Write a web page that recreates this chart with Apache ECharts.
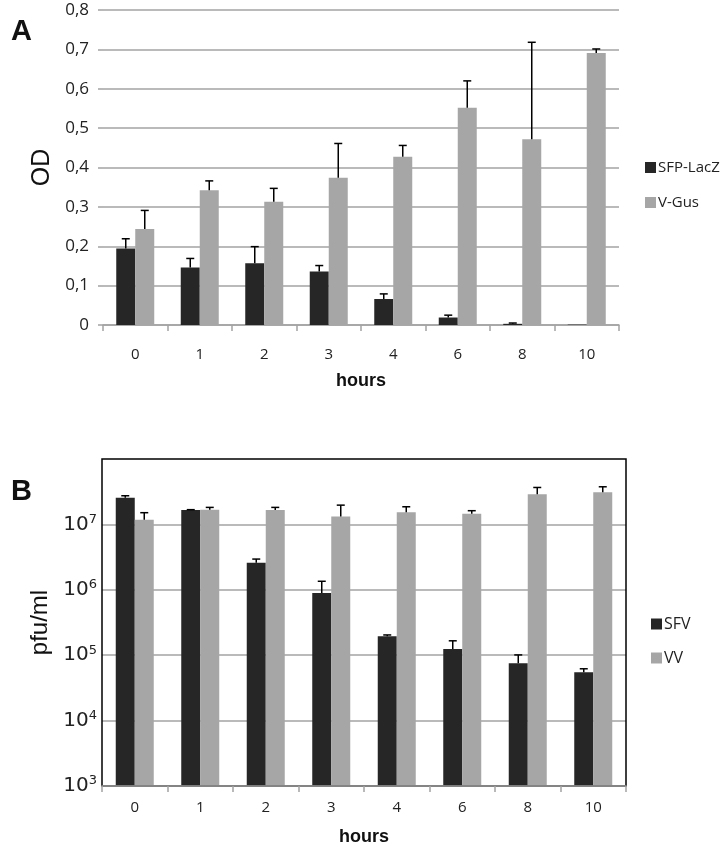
<!DOCTYPE html>
<html>
<head>
<meta charset="utf-8">
<script src="https://cdn.jsdelivr.net/npm/echarts@6/dist/echarts.min.js"></script>
<style>html,body{margin:0;padding:0;background:#fff}#c{width:723px;height:849px}</style>
</head>
<body>
<div id="c"></div>
<script>
// ---- data ----
const categories = ['0', '1', '2', '3', '4', '6', '8', '10'];
// Panel A (OD)
const sfpLacZ    = [0.194, 0.146, 0.157, 0.136, 0.066, 0.019, 0.003, 0.001];
const sfpLacZErr = [0.025, 0.023, 0.042, 0.015, 0.013, 0.006, 0.002, 0];
const vGus       = [0.244, 0.342, 0.313, 0.374, 0.427, 0.552, 0.472, 0.691];
const vGusErr    = [0.047, 0.024, 0.034, 0.087, 0.029, 0.068, 0.246, 0.010];
const odTicks    = [0, 0.1, 0.2, 0.3, 0.4, 0.5, 0.6, 0.7, 0.8];
// Panel B (pfu/ml)
const sfv    = [2.56e7, 1.66e7, 2.6e6, 8.9e5, 1.95e5, 1.24e5, 7.55e4, 5.5e4];
const sfvErr = [1.8e6, 2e5, 3.5e5, 4.6e5, 9e3, 4.2e4, 2.55e4, 7e3];
const vv     = [1.18e7, 1.68e7, 1.66e7, 1.32e7, 1.54e7, 1.46e7, 2.9e7, 3.11e7];
const vvErr  = [3.3e6, 1.4e6, 1.6e6, 6.5e6, 3.2e6, 1.6e6, 7.7e6, 6.5e6];

const DARK = '#262626', LIGHT = '#a6a6a6', GRID = '#a3a3a3';
const BAR_W = 19;

function errData(vals, errs) {
  return vals.map((v, i) => [i, v, v + errs[i], errs[i]]);
}
function errRender(offset) {
  return function (params, api) {
    const err = api.value(3);
    if (!err) return null;
    const base = api.coord([api.value(0), api.value(1)]);
    const top = api.coord([api.value(0), api.value(2)]);
    const x = base[0] + offset;
    const style = { stroke: '#000', lineWidth: 1.5 };
    return {
      type: 'group',
      children: [
        { type: 'line', shape: { x1: x, y1: base[1], x2: x, y2: top[1] }, style },
        { type: 'line', shape: { x1: x - 4, y1: top[1], x2: x + 4, y2: top[1] }, style }
      ]
    };
  };
}

const chart = echarts.init(document.getElementById('c'), null, { renderer: 'canvas' });
const labelFont = 'Open Sans';
chart.setOption({
  animation: false,
  backgroundColor: '#fff',
  title: [
    { text: 'A', left: 6, top: 12, textStyle: { fontSize: 29, fontWeight: 'bold', fontFamily: 'Liberation Sans', color: '#111' } },
    { text: 'B', left: 6, top: 472, textStyle: { fontSize: 29, fontWeight: 'bold', fontFamily: 'Liberation Sans', color: '#111' } }
  ],
  legend: [
    {
      data: ['SFP-LacZ', 'V-Gus'], orient: 'vertical', left: 640, top: 155,
      itemWidth: 11, itemHeight: 11, itemGap: 20, icon: 'rect',
      textStyle: { fontSize: 15, fontFamily: labelFont, color: '#222', padding: [0, 0, 0, -3] }
    },
    {
      data: ['SFV', 'VV'], orient: 'vertical', left: 646, top: 611,
      itemWidth: 11, itemHeight: 11, itemGap: 18, icon: 'rect',
      textStyle: { fontSize: 16, fontFamily: labelFont, color: '#222', padding: [0, 0, 0, -3] }
    }
  ],
  grid: [
    { left: 103, right: 104, top: 10, bottom: 524 },
    { left: 102, right: 97, top: 459, bottom: 63, show: true, borderColor: '#000', borderWidth: 1.5, backgroundColor: 'transparent', z: 10 }
  ],
  xAxis: [
    {
      gridIndex: 0, type: 'category', data: categories,
      axisLine: { lineStyle: { color: GRID, width: 1.5 } },
      axisTick: { show: true, length: 6, lineStyle: { color: GRID, width: 1.5 } },
      axisLabel: { fontSize: 15, fontFamily: labelFont, color: '#222', margin: 22 },
      name: 'hours', nameLocation: 'middle', nameGap: 47,
      nameTextStyle: { fontSize: 18, fontWeight: 'bold', fontFamily: 'Liberation Sans', color: '#111' }
    },
    {
      gridIndex: 1, type: 'category', data: categories, z: 12,
      axisLine: { lineStyle: { color: GRID, width: 1.5 } },
      axisTick: { show: true, length: 6, lineStyle: { color: GRID, width: 1.5 } },
      axisLabel: { fontSize: 15, fontFamily: labelFont, color: '#222', margin: 14 },
      name: 'hours', nameLocation: 'middle', nameGap: 42,
      nameTextStyle: { fontSize: 18, fontWeight: 'bold', fontFamily: 'Liberation Sans', color: '#111' }
    }
  ],
  yAxis: [
    {
      gridIndex: 0, type: 'value', min: odTicks[0], max: odTicks[odTicks.length - 1], interval: 0.1,
      axisLine: { show: false },
      axisTick: { show: true, length: 5, lineStyle: { color: GRID, width: 1.5 } },
      splitLine: { lineStyle: { color: GRID, width: 1.5 } },
      axisLabel: {
        fontSize: 17, fontFamily: labelFont, color: '#222', margin: 14,
        formatter: v => v === 0 ? '0' : v.toFixed(1).replace('.', ',')
      },
      name: 'OD', nameLocation: 'middle', nameGap: 46, nameRotate: 90,
      nameTextStyle: { fontSize: 25, fontFamily: 'Liberation Sans', color: '#111' }
    },
    {
      gridIndex: 1, type: 'log', logBase: 10, min: 1e3, max: 1e8,
      axisLine: { show: false },
      axisTick: { show: false },
      splitLine: { showMaxLine: false, lineStyle: { color: GRID, width: 1.5 } },
      axisLabel: {
        margin: 5,
        formatter: v => {
          const e = Math.round(Math.log10(v));
          if (e >= 8) return '';
          return '{b|10}{s|' + e + '}';
        },
        rich: {
          b: { fontSize: 20, fontFamily: 'DejaVu Sans', color: '#222' },
          s: { fontSize: 13, fontFamily: 'DejaVu Sans', color: '#222', padding: [0, 0, 10, 0] }
        }
      },
      name: 'pfu/ml', nameLocation: 'middle', nameGap: 47, nameRotate: 90,
      nameTextStyle: { fontSize: 24, fontFamily: 'Liberation Sans', color: '#111' }
    }
  ],
  series: [
    { name: 'SFP-LacZ', type: 'bar', xAxisIndex: 0, yAxisIndex: 0, data: sfpLacZ, barWidth: BAR_W, barGap: '0%', itemStyle: { color: DARK } },
    { name: 'V-Gus', type: 'bar', xAxisIndex: 0, yAxisIndex: 0, data: vGus, barWidth: BAR_W, barGap: '0%', itemStyle: { color: LIGHT } },
    { name: 'SFP-LacZ err', type: 'custom', xAxisIndex: 0, yAxisIndex: 0, data: errData(sfpLacZ, sfpLacZErr), renderItem: errRender(-BAR_W / 2), z: 5 },
    { name: 'V-Gus err', type: 'custom', xAxisIndex: 0, yAxisIndex: 0, data: errData(vGus, vGusErr), renderItem: errRender(BAR_W / 2), z: 5 },
    { name: 'SFV', type: 'bar', xAxisIndex: 1, yAxisIndex: 1, data: sfv, barWidth: BAR_W, barGap: '0%', clip: true, itemStyle: { color: DARK } },
    { name: 'VV', type: 'bar', xAxisIndex: 1, yAxisIndex: 1, data: vv, barWidth: BAR_W, barGap: '0%', clip: true, itemStyle: { color: LIGHT } },
    { name: 'SFV err', type: 'custom', xAxisIndex: 1, yAxisIndex: 1, data: errData(sfv, sfvErr), renderItem: errRender(-BAR_W / 2), z: 5 },
    { name: 'VV err', type: 'custom', xAxisIndex: 1, yAxisIndex: 1, data: errData(vv, vvErr), renderItem: errRender(BAR_W / 2), z: 5 }
  ]
});
</script>
</body>
</html>
